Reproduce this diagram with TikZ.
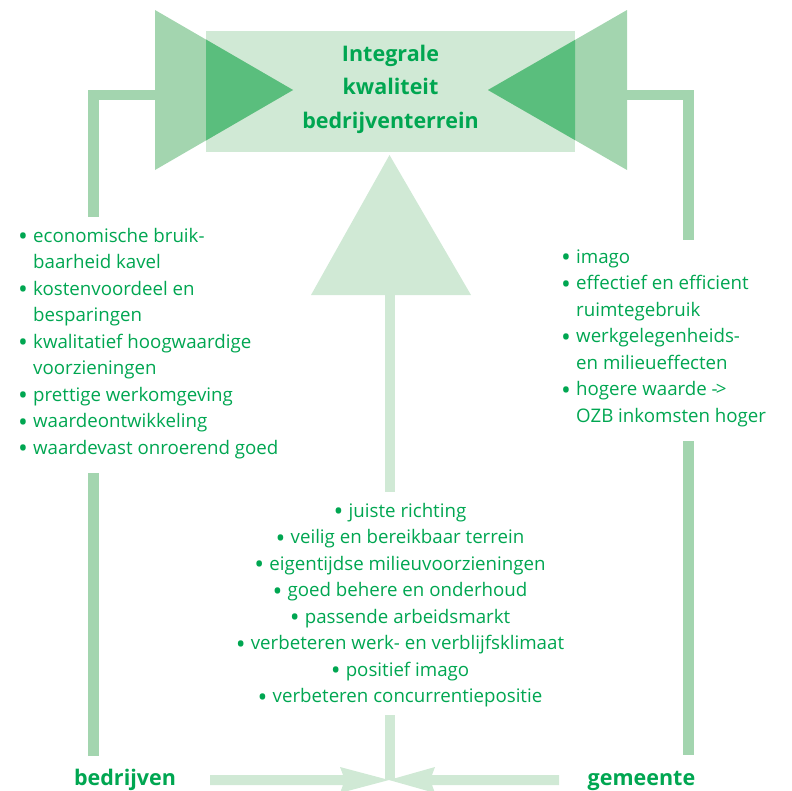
\documentclass[tikz,border=0pt]{standalone}
\usepackage{fontspec}
\setmainfont{Open Sans}
\usetikzlibrary{positioning}

\definecolor{groenlicht}{RGB}{208,233,213}
\definecolor{groenmidden}{RGB}{163,213,175}
\definecolor{groendonker}{RGB}{90,190,125}
\definecolor{groentekst}{RGB}{0,166,81}

\newcommand{\itm}{\makebox[15pt][l]{\raisebox{-3.5pt}{\scalebox{1.4}{\textbullet}}}}

\begin{document}
\begin{tikzpicture}[x=1pt, y=-1pt,
    balk/.style={line width=10.5pt, line cap=butt, line join=miter},
    lijst/.style={font=\fontsize{18.7}{26.5}\selectfont, text=groentekst, inner sep=0pt},
    kop/.style={font=\fontsize{21.5}{33.3}\selectfont\bfseries, text=groentekst, inner sep=0pt}]
        \useasboundingbox (0,0) rectangle (792,790);

        % vlak met de titel
        \fill[groenlicht] (206,31) rectangle (575,152);

        % driehoeken links en rechts, met donkere overlap op het vlak
        \foreach \bx/\px in {155/293, 627/488}
            {
                \fill[groenmidden] (\bx,10) -- (\px,90) -- (\bx,170) -- cycle;
                \begin{scope}
                    \clip (206,31) rectangle (575,152);
                    \fill[groendonker] (\bx,10) -- (\px,90) -- (\bx,170) -- cycle;
                \end{scope}
            }
        % base is de laatste regel
        \node[kop, align=center, anchor=base] (kwaliteit) at (390.5,128) {Integrale\\kwaliteit\\bedrijventerrein};

        % verbindingen van bedrijven en gemeente naar boven
        \coordinate (lb) at (155,95);
        \coordinate (rb) at (627,95);
        \draw[balk, groenmidden] (lb) -- (93.5,95) -- (93.5,217);
        \draw[balk, groenmidden] (93.5,473) -- (93.5,756);
        \draw[balk, groenmidden] (rb) -- (688.5,95) -- (688.5,240);
        \draw[balk, groenmidden] (688.5,441) -- (688.5,755);

        % middelste pijl naar boven
        \coordinate (top) at (389.5,155);
        \fill[groenlicht] (top) -- (471,295) -- (311,295) -- cycle;
        \draw[balk, groenlicht] (390,295) -- (390,492);
        \draw[balk, groenlicht] (390,715) -- (390,780);

        % pijlen onderaan
        \coordinate (punt) at (389,780);
        \fill[groenlicht] (210,775) -- (343,775) -- (340,767) -- (punt) -- (340,793) -- (343,785) -- (210,785) -- cycle;
        \fill[groenlicht] (559,775) -- (432,775) -- (435,767) -- (punt) -- (435,793) -- (432,785) -- (559,785) -- cycle;

        % lijsten
        \node[lijst, align=left, anchor=base west] (bedrijflijst) at (18,454) {%
            \itm economische bruik-\\
            \phantom{\itm}baarheid kavel\\
            \itm kostenvoordeel en\\
            \phantom{\itm}besparingen\\
            \itm kwalitatief hoogwaardige\\
            \phantom{\itm}voorzieningen\\
            \itm prettige werkomgeving\\
            \itm waardeontwikkeling\\
            \itm waardevast onroerend goed};
        \node[lijst, align=left, anchor=base west] (gemeentelijst) at (561,422) {%
            \itm imago\\
            \itm effectief en efficient\\
            \phantom{\itm}ruimtegebruik\\
            \itm werkgelegenheids-\\
            \phantom{\itm}en milieueffecten\\
            \itm hogere waarde -\kern-0.1em>\\
            \phantom{\itm}OZB inkomsten hoger};
        \node[lijst, align=center, anchor=base] (terreinlijst) at (400,702.5) {%
            \itm juiste richting\\
            \itm veilig en bereikbaar terrein\\
            \itm eigentijdse milieuvoorzieningen\\
            \itm goed behere en onderhoud\\
            \itm passende arbeidsmarkt\\
            \itm verbeteren werk- en verblijfsklimaat\\
            \itm positief imago\\
            \itm verbeteren concurrentiepositie};

        % partijen
        \node[kop, anchor=base] (bedrijven) at (125,785) {bedrijven};
        \node[kop, anchor=base] (gemeente) at (641.5,785) {gemeente};
    \end{tikzpicture}
\end{document}
